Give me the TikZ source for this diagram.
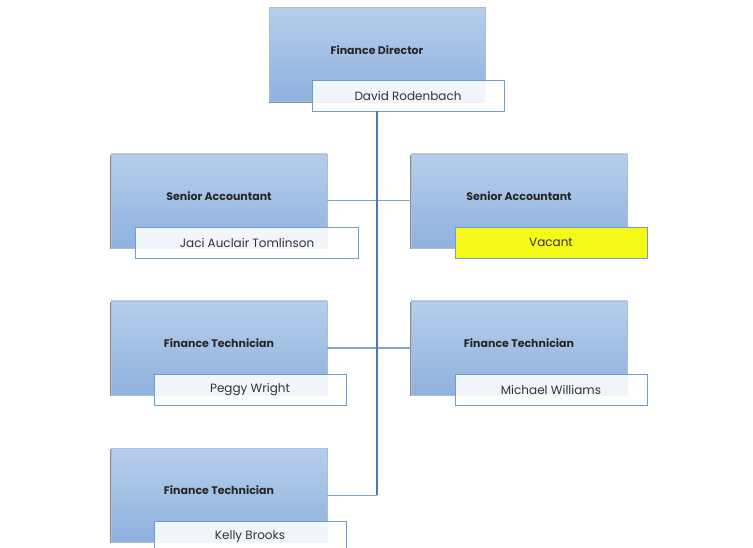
\documentclass[tikz,border=0pt]{standalone}
\usepackage{fontspec}
\setmainfont{Poppins}
\usetikzlibrary{positioning}
\definecolor{boxtop}{HTML}{B6CEEC}
\definecolor{boxbot}{HTML}{8EB1DE}
\definecolor{namebd}{HTML}{6F9BD2}
\definecolor{vline}{HTML}{4A7AB3}
\definecolor{hline}{HTML}{7FA6CB}
\definecolor{shadowc}{HTML}{8A8A8A}
\definecolor{vacant}{HTML}{F5F918}
\tikzset{
  x=1pt, y=-1pt,
  rolebox/.style={rectangle, minimum width=216pt, minimum height=94pt, inner sep=0pt,
    top color=boxtop, bottom color=boxbot, draw=boxtop!80!gray, line width=0.6pt,
    font=\fontsize{11}{12}\selectfont\bfseries, text=black!85},
  namebox/.style={rectangle, minimum width=192pt, minimum height=31pt, inner sep=0pt,
    draw=namebd, line width=0.7pt, fill=white, fill opacity=0.88, text opacity=1,
    font=\fontsize{12}{13}\selectfont, text=black!80},
  vacbox/.style={namebox, fill=vacant, fill opacity=1},
  conn/.style={draw=hline, line width=1pt},
  trunk/.style={draw=vline, line width=1.6pt}
}
\begin{document}
\begin{tikzpicture}
\useasboundingbox (0,0) rectangle (753,548);
% shadows
\foreach \x/\y in {270/8, 111/154, 411/154, 111/301, 411/301, 111/448}{
  \fill[shadowc] (\x-1.2,\y+1) rectangle (\x+214,\y+95);
}
% role boxes
\node[rolebox] (fd) at (377,54.5) {\raisebox{9pt}{Finance Director}};
\node[rolebox] (sa1) at (219,201) {\raisebox{9pt}{Senior Accountant}};
\node[rolebox] (sa2) at (519,201) {\raisebox{9pt}{Senior Accountant}};
\node[rolebox] (ft1) at (219,348) {\raisebox{9pt}{Finance Technician}};
\node[rolebox] (ft2) at (519,348) {\raisebox{9pt}{Finance Technician}};
\node[rolebox] (ft3) at (219,495) {\raisebox{9pt}{Finance Technician}};
% connectors
\coordinate (j1) at (377,201);
\coordinate (j2) at (377,348);
\coordinate (j3) at (377,495);
\draw[conn] (sa1.east |- j1) -- (sa2.west |- j1);
\draw[conn] (ft1.east |- j2) -- (ft2.west |- j2);
\draw[conn] (ft3.east |- j3) -- (j3);
% name boxes
\node[namebox] (n0) at (408,95.5) {David Rodenbach};
\node[namebox, minimum width=223pt] (n1) at (247,242.5) {Jaci Auclair Tomlinson};
\node[vacbox] (n2) at (551,242.5) {Vacant};
\node[namebox] (n3) at (250,390) {Peggy Wright};
\node[namebox] (n4) at (551,390) {Michael Williams};
\node[namebox] (n5) at (250,537) {Kelly Brooks};
% trunk
\draw[trunk] (n0.south -| j1) -- (j3);
\end{tikzpicture}
\end{document}
